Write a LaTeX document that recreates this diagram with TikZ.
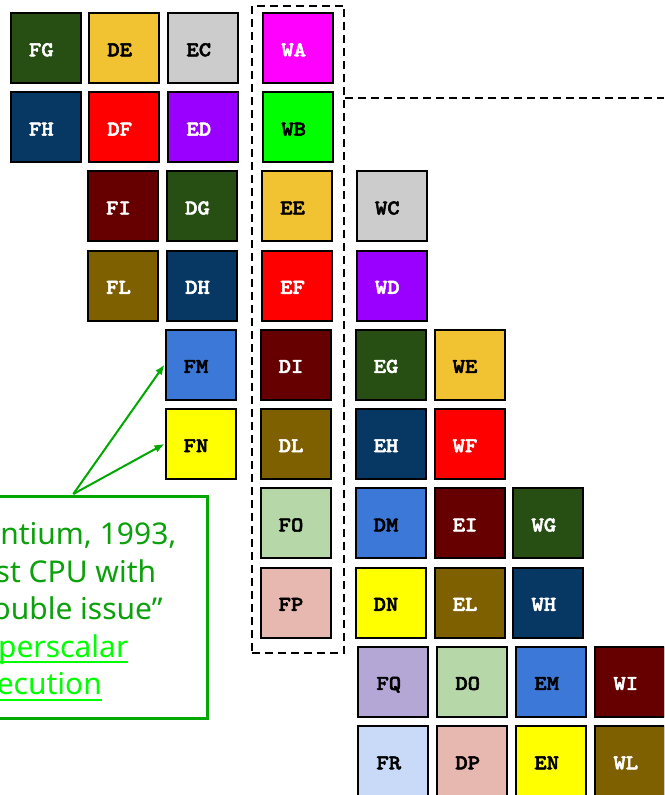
\documentclass[tikz,border=0pt]{standalone}
\usepackage{fontspec}
\newfontfamily\notefont{Noto Sans}
\newfontfamily\cellfont{lmmonolt10-bold.otf}[FakeStretch=1.12, FakeBold=2.5]
\usetikzlibrary{arrows.meta}

% register colours
\definecolor{dkgreen}{HTML}{274E13}
\definecolor{gold}{HTML}{F1C232}
\definecolor{ltgray}{HTML}{CCCCCC}
\definecolor{magenta}{HTML}{FF00FF}
\definecolor{navy}{HTML}{073763}
\definecolor{pured}{HTML}{FF0000}
\definecolor{violet}{HTML}{9900FF}
\definecolor{lime}{HTML}{00FF00}
\definecolor{maroon}{HTML}{660000}
\definecolor{olive}{HTML}{7F6000}
\definecolor{cblue}{HTML}{3C78D8}
\definecolor{yel}{HTML}{FFFF00}
\definecolor{sage}{HTML}{B6D7A8}
\definecolor{rosy}{HTML}{E6B8AF}
\definecolor{lavender}{HTML}{B4A7D6}
\definecolor{skyblue}{HTML}{C9DAF8}
% callout colours
\definecolor{notegreen}{HTML}{00A800}
\definecolor{notetext}{HTML}{0CA00C}
\definecolor{linkgreen}{HTML}{00FF00}

\newcommand\linkline[1]{\setbox0=\hbox{#1}\rlap{\rule[-5.6pt]{\wd0}{2pt}}\box0}
\newcommand\regcell[5]{\node[regbox, fill=#4, text=#5] (#1) at (#2,#3) {#1};}

\tikzset{
  regbox/.style={draw=black, line width=2pt, minimum size=70pt, inner sep=0pt,
    font=\fontsize{21}{21}\cellfont, text height=16.5pt, text depth=0pt,
    execute at end node={\kern9pt}},
  winbox/.style={draw=black, line width=2pt, dash pattern=on 8pt off 5pt,
    inner sep=0pt, minimum width=92pt, minimum height=647.6pt},
  winline/.style={draw=black, line width=2pt, dash pattern=on 8pt off 5pt},
  notebox/.style={draw=notegreen, line width=3pt, inner sep=0pt,
    minimum width=268.7pt, minimum height=221.2pt},
  notetxt/.style={text=notetext, font=\fontsize{30}{37.6}\notefont, align=left,
    inner sep=0pt},
  pointer/.style={draw=notegreen, line width=2pt,
    -{Latex[length=10pt,width=8pt]}}
}

\begin{document}
\begin{tikzpicture}[x=1pt,y=-1pt]
\useasboundingbox (0,0) rectangle (664,795);
\clip (0,0) rectangle (664,795);

% issue window
\node[winbox] (win) at (298,329.5) {};
\coordinate (winend) at (664,98.3);
\draw[winline] (win.east |- winend) -- (winend);

% rows 1--2
\regcell{FG}{45.8}{48}{dkgreen}{white}
\regcell{DE}{124.2}{48}{gold}{black}
\regcell{EC}{203.3}{48}{ltgray}{black}
\regcell{WA}{298.2}{48}{magenta}{white}
\regcell{FH}{45.8}{127.3}{navy}{white}
\regcell{DF}{124.2}{127.3}{pured}{white}
\regcell{ED}{203.3}{127.3}{violet}{white}
\regcell{WB}{298.2}{127.3}{lime}{black}
% rows 3--4
\regcell{FI}{123}{206.2}{maroon}{white}
\regcell{DG}{202}{206.2}{dkgreen}{white}
\regcell{EE}{297}{206.2}{gold}{black}
\regcell{WC}{391.8}{206.2}{ltgray}{black}
\regcell{FL}{123}{285.5}{olive}{white}
\regcell{DH}{202}{285.5}{navy}{white}
\regcell{EF}{297}{285.5}{pured}{white}
\regcell{WD}{391.8}{285.5}{violet}{white}
% rows 5--6
\regcell{FM}{200.5}{364.6}{cblue}{black}
\regcell{DI}{295.5}{364.6}{maroon}{white}
\regcell{EG}{390.5}{364.6}{dkgreen}{white}
\regcell{WE}{469.5}{364.6}{gold}{black}
\regcell{FN}{200.5}{443.9}{yel}{black}
\regcell{DL}{295.5}{443.9}{olive}{white}
\regcell{EH}{390.5}{443.9}{navy}{white}
\regcell{WF}{469.5}{443.9}{pured}{white}
% rows 7--8
\regcell{FO}{295.5}{523.2}{sage}{black}
\regcell{DM}{390.5}{523.2}{cblue}{black}
\regcell{EI}{469.5}{523.2}{maroon}{white}
\regcell{WG}{548.3}{523.2}{dkgreen}{white}
\regcell{FP}{295.5}{602.5}{rosy}{black}
\regcell{DN}{390.5}{602.5}{yel}{black}
\regcell{EL}{469.5}{602.5}{olive}{white}
\regcell{WH}{548.3}{602.5}{navy}{white}
% rows 9--10
\regcell{FQ}{393.3}{681.6}{lavender}{black}
\regcell{DO}{472.2}{681.6}{sage}{black}
\regcell{EM}{551.2}{681.6}{cblue}{black}
\regcell{WI}{630.3}{681.6}{maroon}{white}
\regcell{FR}{393.3}{761}{skyblue}{black}
\regcell{DP}{472.2}{761}{rosy}{black}
\regcell{EN}{551.2}{761}{yel}{black}
\regcell{WL}{630.3}{761}{olive}{white}

% callout
\node[notebox, anchor=north east] (note) at (208.7,495.3) {};
\node[notetxt, anchor=north west] (notetext) at (-35,519.3)
  {\rule{0pt}{25pt}Pentium, 1993,\\
   first CPU with\\
   “double issue”\\
   {\color{linkgreen}\linkline{superscalar}}\\
   {\color{linkgreen}\linkline{execution}}};
\coordinate (notetip) at (73.3,494);
\draw[pointer] (notetip) -- (FM.west);
\draw[pointer] (notetip) -- (FN.west);
\end{tikzpicture}
\end{document}
